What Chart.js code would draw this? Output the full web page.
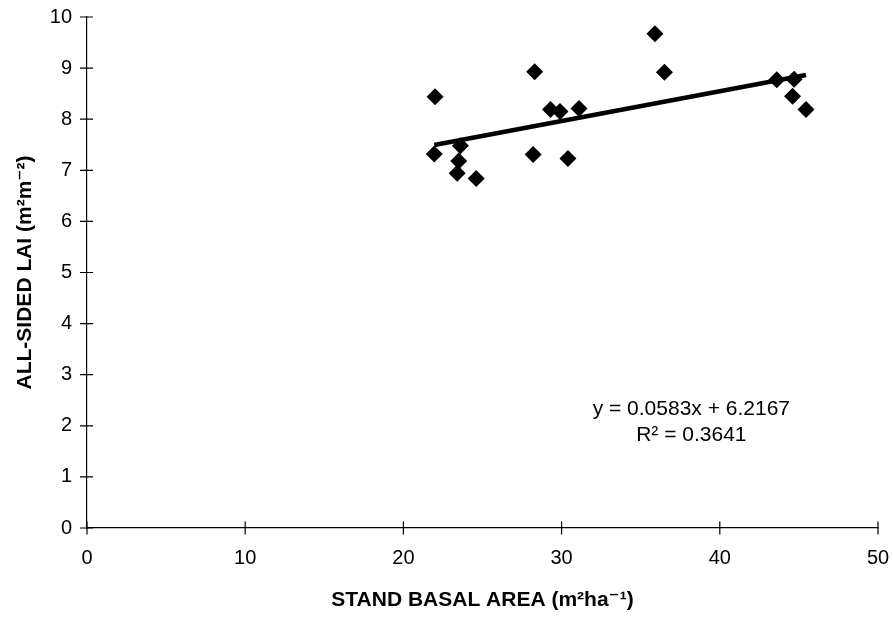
<!DOCTYPE html>
<html>
<head>
<meta charset="utf-8">
<script src="https://cdn.jsdelivr.net/npm/chart.js@4/dist/chart.umd.min.js"></script>
<style>
  html, body { margin: 0; padding: 0; background: #fff; }
  #wrap { width: 893px; height: 618px; }
</style>
</head>
<body>
<div id="wrap"><canvas id="laiChart"></canvas></div>
<script>
// stand basal area (m2/ha) and all-sided LAI
const basalArea = [22.0, 21.95, 23.6, 23.5, 23.4, 24.6, 28.3, 28.2, 29.3, 29.9, 30.4, 31.1, 35.9, 36.5, 43.6, 44.7, 44.6, 45.45];
const laiValues = [8.44, 7.32, 7.48, 7.18, 6.94, 6.84, 8.93, 7.31, 8.19, 8.15, 7.23, 8.21, 9.67, 8.92, 8.77, 8.78, 8.45, 8.19];

// linear fit printed on the chart
const fitSlope = 0.0583;
const fitIntercept = 6.2167;
const fitLabels = ["y = 0.0583x + 6.2167", "R\u00B2 = 0.3641"];

const xTicks = [0, 10, 20, 30, 40, 50];
const yTicks = [0, 1, 2, 3, 4, 5, 6, 7, 8, 9, 10];

const points = basalArea.map((x, i) => ({ x: x, y: laiValues[i] }));
const xMin = Math.min(...basalArea);
const xMax = Math.max(...basalArea);
const fitLine = [xMin, xMax].map(x => ({ x: x, y: fitSlope * x + fitIntercept }));

const FONT = "'Liberation Sans', Arial, 'DejaVu Sans', sans-serif";

// tick marks that cross the axis lines, plus the fit equation
const crossTicks = {
  id: "crossTicks",
  afterDraw(chart) {
    const { ctx, scales: { x, y } } = chart;
    const x0 = x.getPixelForValue(0);
    const y0 = y.getPixelForValue(0);
    ctx.save();
    ctx.strokeStyle = "#000";
    ctx.lineWidth = 1.2;
    ctx.beginPath();
    xTicks.forEach(v => {
      const px = x.getPixelForValue(v);
      ctx.moveTo(px, y0 - 6.5);
      ctx.lineTo(px, y0 + 6.5);
    });
    yTicks.forEach(v => {
      const py = y.getPixelForValue(v);
      ctx.moveTo(x0 - 7, py);
      ctx.lineTo(x0 + 6, py);
    });
    ctx.stroke();

    ctx.fillStyle = "#000";
    ctx.font = "21px " + FONT;
    ctx.textAlign = "center";
    ctx.textBaseline = "middle";
    const cx = x.getPixelForValue(38.2);
    ctx.fillText(fitLabels[0], cx, y.getPixelForValue(2.32));
    ctx.fillText(fitLabels[1], cx, y.getPixelForValue(1.82));
    ctx.restore();
  }
};

new Chart(document.getElementById("laiChart"), {
  type: "scatter",
  data: {
    datasets: [
      {
        label: "LAI",
        data: points,
        pointStyle: "rectRot",
        pointRadius: 8.5,
        pointBackgroundColor: "#000",
        pointBorderWidth: 0,
        showLine: false
      },
      {
        label: "Fit",
        data: fitLine,
        type: "line",
        borderColor: "#000",
        borderWidth: 4.5,
        pointRadius: 0,
        fill: false
      }
    ]
  },
  options: {
    responsive: true,
    maintainAspectRatio: false,
    animation: false,
    layout: { padding: { top: 17, right: 15, bottom: 0, left: 0 } },
    plugins: { legend: { display: false }, tooltip: { enabled: false } },
    scales: {
      x: {
        type: "linear",
        min: 0,
        max: 50,
        afterBuildTicks: s => { s.ticks = xTicks.map(v => ({ value: v })); },
        afterFit: s => { s.height = 90; s.paddingLeft = 0; s.paddingRight = 0; },
        grid: { display: false, drawTicks: false },
        border: { display: true, color: "#000", width: 1.2 },
        ticks: { color: "#000", padding: 18, font: { family: FONT, size: 20 } },
        title: {
          display: true,
          text: "STAND BASAL AREA (m\u00B2ha\u207B\u00B9)",
          color: "#000",
          padding: { top: 0, bottom: 5 },
          font: { family: FONT, size: 21, weight: "bold" }
        }
      },
      y: {
        type: "linear",
        min: 0,
        max: 10,
        afterBuildTicks: s => { s.ticks = yTicks.map(v => ({ value: v })); },
        afterFit: s => { s.width = 87; s.paddingTop = 0; s.paddingBottom = 0; },
        grid: { display: false, drawTicks: false },
        border: { display: true, color: "#000", width: 1.2 },
        ticks: { color: "#000", padding: 15, font: { family: FONT, size: 20 } },
        title: {
          display: true,
          text: "ALL-SIDED LAI (m\u00B2m\u207B\u00B2)",
          color: "#000",
          padding: { top: 13, bottom: 0 },
          font: { family: FONT, size: 21, weight: "bold" }
        }
      }
    }
  },
  plugins: [crossTicks]
});
</script>
</body>
</html>
